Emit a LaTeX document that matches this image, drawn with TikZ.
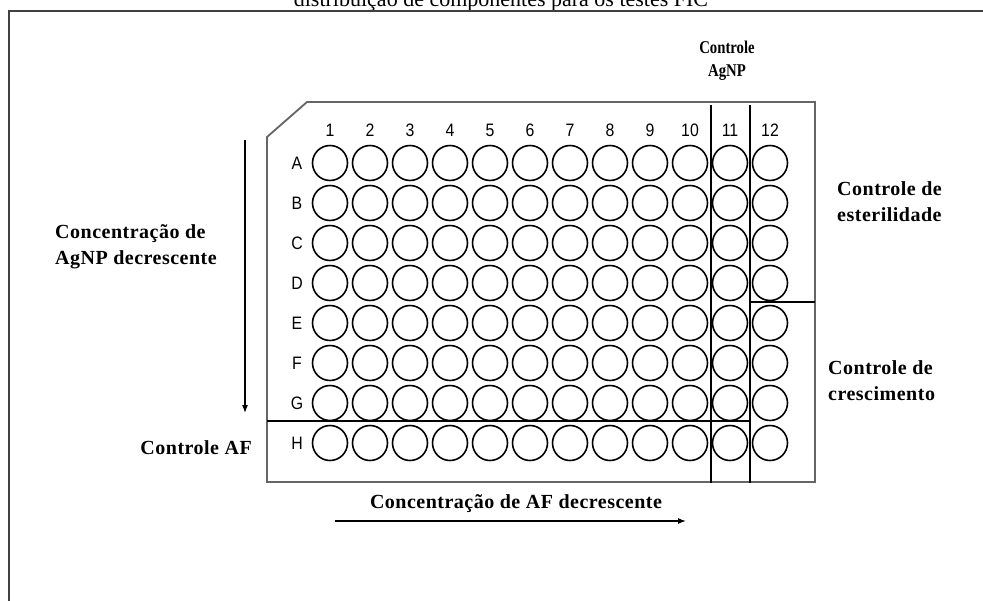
\documentclass[tikz,border=0pt]{standalone}
\usepackage{fontspec}
\setmainfont{Liberation Serif}
\newfontfamily\platefont{Liberation Sans}
\newfontfamily\labfont[LetterSpace=2.5]{Liberation Serif}
\usetikzlibrary{arrows.meta}
\newcommand{\narrow}[1]{\scalebox{0.88}[1]{#1}}
\begin{document}
\begin{tikzpicture}[x=1pt,y=-1pt,
  well/.style={circle,draw=black,line width=1.6pt,minimum size=35pt,inner sep=0pt},
  platelab/.style={font=\platefont\fontsize{18}{18}\selectfont,inner sep=0pt,text=black},
  lab/.style={font=\labfont\bfseries\fontsize{20}{26}\selectfont,inner sep=0pt,align=left},
  divider/.style={line width=2.6pt,black},
  arr/.style={line width=1.2pt,-{Latex[length=8pt,width=6pt]}}]
\useasboundingbox (0,0) rectangle (983,600);
\clip (0,0) rectangle (983,600);
\fill[white] (0,0) rectangle (983,600);
% title (cut off by page top)
\node[anchor=base,inner sep=0pt,font=\fontsize{22}{22}\selectfont] (title) at (501,6) {distribuição de componentes para os testes FIC};
% outer frame
\draw[line width=1.8pt,black!75] (9,620) -- (9,11) -- (1000,11);
% plate outline
\draw[line width=1.8pt,black!60] (267,137) -- (307,102) -- (815,102) -- (815,482) -- (267,482) -- cycle;
% wells
\foreach \r [count=\i from 0] in {A,B,C,D,E,F,G,H}{
  \node[platelab] (row-\r) at (297,163+40*\i) {\narrow{\r}};
  \foreach \c in {1,...,12}{
    \node[well] (w-\r-\c) at (330+40*\c-40,163+40*\i) {};
  }
}
\foreach \c in {1,...,12}{
  \node[platelab] (col-\c) at (330+40*\c-40,130) {\narrow{\c}};
}
% dividers
\coordinate (v1t) at (711,105); \coordinate (v1b) at (711,483);
\coordinate (v2t) at (750,105); \coordinate (v2b) at (750,483);
\coordinate (h1l) at (267,421); \coordinate (h1r) at (750,421);
\coordinate (h2l) at (750,302); \coordinate (h2r) at (815,302);
\draw[divider] (v1t) -- (v1b);
\draw[divider] (v2t) -- (v2b);
\draw[divider] (h1l) -- (h1r);
\draw[divider] (h2l) -- (h2r);
% labels
\node[lab,align=center,font=\bfseries\fontsize{18}{23}\selectfont] (agnp) at (727,61) {\scalebox{0.82}[1]{Controle}\\\scalebox{0.82}[1]{AgNP}};
\node[lab,anchor=west] (ester) at (837,202) {Controle de\\esterilidade};
\node[lab,anchor=west] (cresc) at (828,381) {Controle de\\crescimento};
\node[lab,anchor=west] (concag) at (55,247) {Concentração de\\AgNP decrescente};
\node[lab,anchor=east] (ctrlaf) at (252,448) {Controle AF};
\node[lab] (concaf) at (516,504) {Concentração de AF decrescente};
% arrows
\coordinate (va) at (245,140); \coordinate (vb) at (245,413);
\coordinate (ha) at (335,521); \coordinate (hb) at (686,521);
\draw[arr] (va) -- (vb);
\draw[arr] (ha) -- (hb);
\end{tikzpicture}
\end{document}
